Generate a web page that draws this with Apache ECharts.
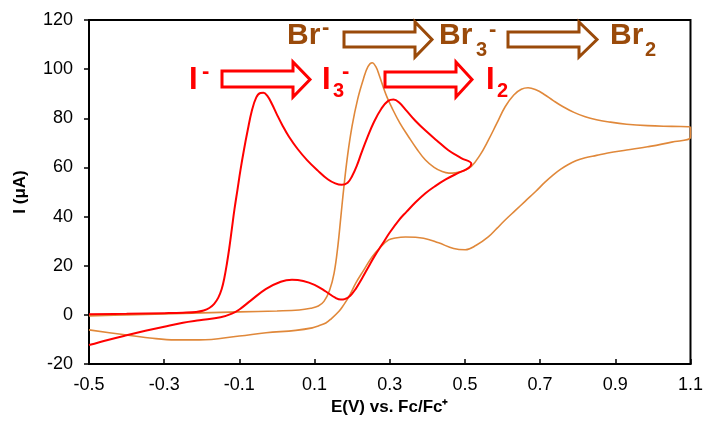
<!DOCTYPE html>
<html>
<head>
<meta charset="utf-8">
<script src="https://cdn.jsdelivr.net/npm/echarts@6/dist/echarts.min.js"></script>
<style>
html,body{margin:0;padding:0;background:#fff;}
#chart{width:706px;height:425px;}
</style>
</head>
<body>
<div id="chart"></div>
<script>
// Iodide CV (red): potential (V) and current (µA), in scan order
var redV = [-0.5,-0.4,-0.3,-0.25,-0.215,-0.195,-0.18,-0.167,-0.156,-0.147,-0.14,-0.133,-0.127,-0.12,-0.113,-0.105,-0.097,-0.088,-0.078,-0.067,-0.055,-0.044,-0.036,-0.026,-0.014,0.0,0.015,0.032,0.055,0.08,0.108,0.135,0.155,0.172,0.188,0.2,0.212,0.225,0.24,0.258,0.278,0.295,0.31,0.325,0.345,0.368,0.395,0.425,0.456,0.49,0.517,
  0.51,0.48,0.45,0.42,0.395,0.37,0.345,0.324,0.3,0.279,0.26,0.244,0.225,0.21,0.195,0.18,0.17,0.155,0.13,0.1,0.07,0.04,0.01,-0.03,-0.07,-0.1,-0.12,-0.15,-0.206,-0.25,-0.3,-0.35,-0.4,-0.45,-0.5];
var redI = [0.2,0.4,0.7,0.9,1.2,1.8,2.8,4.5,7,10.5,15,21,27,35,43,51,59,67,75,83,88.5,90.3,90.4,89.2,86,81.5,77,72.5,67.5,63,58.8,55.2,53.5,52.9,53.8,56.5,60.5,66,72,78.5,84,87,87.6,86.4,83,79,75,71,67,63.8,61.5,
  59.8,57.6,55.2,52.3,49.5,46,42,38.5,33.5,28.5,24,19.7,14.5,10.7,7.8,6.4,6.2,7,9.5,12.2,13.8,14.3,13.5,10.5,5.8,2.2,0.5,-1,-2.2,-3.2,-4.8,-6.5,-8.3,-10.2,-12.3];

// Bromide CV (orange): potential (V) and current (µA), in scan order
var orangeV = [-0.5,-0.4,-0.3,-0.2,-0.1,0,0.059,0.09,0.11,0.125,0.14,0.152,0.162,0.17,0.178,0.188,0.2,0.215,0.23,0.242,0.253,0.263,0.272,0.282,0.293,0.305,0.327,0.35,0.372,0.395,0.418,0.438,0.457,0.474,0.495,0.517,0.54,0.562,0.585,0.607,0.63,0.65,0.668,0.69,0.71,0.735,0.76,0.79,0.82,0.85,0.88,0.93,0.986,1.05,1.1,
  1.1,1.05,0.986,0.93,0.88,0.85,0.82,0.795,0.775,0.756,0.735,0.713,0.688,0.66,0.635,0.607,0.585,0.562,0.53,0.501,0.47,0.43,0.39,0.342,0.315,0.297,0.275,0.253,0.23,0.21,0.191,0.175,0.165,0.145,0.13,0.11,0.094,0.05,-0.029,-0.1,-0.206,-0.27,-0.338,-0.42,-0.5];
var orangeI = [-0.4,0,0.4,0.8,1.2,1.6,2,2.7,3.6,5.5,10,17,28,40,52,65,77,88,96,101,102.6,101,97.5,93,88.5,84.5,78,72.5,67.5,63,60,58.4,57.7,57.8,58.5,60.4,65,71,78,84.7,89.5,91.8,92.4,91.5,89.8,87.2,84.8,82.4,80.6,79.4,78.6,77.6,77,76.7,76.5,
  72.4,70.3,68.4,67.1,65.9,64.9,63.9,62.7,61.2,59.4,57,54,50.2,46.2,42.6,38.6,35.2,31.7,28.3,26.5,27,29.3,31.2,31.7,31.3,30.5,27.5,23.6,18,13,7.3,3.5,1.5,-1.5,-3.3,-4.5,-5.3,-6.3,-7.3,-8.6,-10.2,-10.2,-9.4,-7.8,-6.1];

// Tick labels
var xTicks = [-0.5,-0.3,-0.1,0.1,0.3,0.5,0.7,0.9,1.1];
var yTicks = [-20,0,20,40,60,80,100,120];

function pairs(xs, ys){ var out=[]; for(var i=0;i<xs.length;i++){ out.push([xs[i], ys[i]]); } return out; }

var FONT = "'Liberation Sans', Arial, sans-serif";
var RED = '#FF0000';
var BROWN = '#9A4A0A';
var ORANGE = '#E0883A';

function arrow(x0, x1, xh, by0, by1, hy0, hy1, color){
  var hm = (hy0 + hy1) / 2;
  return {
    type: 'polygon', z: 10,
    shape: { points: [[x0,by0],[xh,by0],[xh,hy0],[x1,hm],[xh,hy1],[xh,by1],[x0,by1]] },
    style: { fill: '#fff', stroke: color, lineWidth: 3, lineJoin: 'miter' }
  };
}
function txt(x, y, s, size, color){
  return { type: 'text', z: 11, x: x, y: y,
    style: { text: s, fill: color, font: 'bold ' + size + 'px ' + FONT, textVerticalAlign: 'middle', verticalAlign: 'middle', textAlign: 'left', align: 'left' } };
}

var chart = echarts.init(document.getElementById('chart'), null, {renderer: 'canvas'});
chart.setOption({
  animation: false,
  backgroundColor: '#fff',
  grid: { left: 89, right: 13, top: 20, bottom: 61, show: true, borderColor: '#000', borderWidth: 2, backgroundColor: 'transparent' },
  xAxis: {
    type: 'value', min: -0.5, max: 1.1,
    name: 'E(V) vs. Fc/Fc\u207A', nameLocation: 'middle', nameGap: 27,
    nameTextStyle: { fontFamily: FONT, fontWeight: 'bold', fontSize: 17, color: '#000' },
    axisLine: { onZero: false, lineStyle: { color: '#000', width: 2 } },
    axisTick: { show: true, inside: true, length: 5, lineStyle: { color: '#000', width: 1.5 }, customValues: xTicks },
    axisLabel: { fontFamily: FONT, fontSize: 18, color: '#000', margin: 12, customValues: xTicks,
      formatter: function(v){ return (Math.round(v*10)/10).toFixed(1); } },
    splitLine: { show: false }
  },
  yAxis: {
    type: 'value', min: -20, max: 120, interval: 20,
    name: 'I (\u03BCA)', nameLocation: 'middle', nameGap: 60, nameRotate: 90,
    nameTextStyle: { fontFamily: FONT, fontWeight: 'bold', fontSize: 17, color: '#000' },
    axisLine: { onZero: false, lineStyle: { color: '#000', width: 2 } },
    axisTick: { show: true, inside: false, length: 5, lineStyle: { color: '#000', width: 1.5 }, customValues: yTicks },
    axisLabel: { fontFamily: FONT, fontSize: 18, color: '#000', margin: 16, customValues: yTicks },
    splitLine: { show: false }
  },
  series: [
    { type: 'line', name: 'Br', data: pairs(orangeV, orangeI), smooth: 0.4, showSymbol: false, symbol: 'none',
      lineStyle: { color: ORANGE, width: 1.6 }, z: 2 },
    { type: 'line', name: 'I', data: pairs(redV, redI), smooth: 0.4, showSymbol: false, symbol: 'none',
      lineStyle: { color: RED, width: 2 }, z: 3 }
  ],
  graphic: [
    arrow(222, 310, 293, 71, 87, 62, 97, RED),
    arrow(385, 472, 456, 72, 87, 62, 97, RED),
    arrow(344, 432, 415, 32, 47, 22, 57, BROWN),
    arrow(508, 597, 579, 32, 47, 22, 57, BROWN),
    txt(189, 80, 'I', 31, RED),
    txt(202, 72, '-', 22, RED),
    txt(322, 80, 'I', 31, RED),
    txt(333, 91, '3', 20, RED),
    txt(342, 72, '-', 22, RED),
    txt(486, 80, 'I', 31, RED),
    txt(497, 91, '2', 20, RED),
    txt(287, 36, 'Br', 30, BROWN),
    txt(322, 28, '-', 22, BROWN),
    txt(439, 36, 'Br', 30, BROWN),
    txt(476, 50, '3', 20, BROWN),
    txt(489, 30, '-', 22, BROWN),
    txt(610, 36, 'Br', 30, BROWN),
    txt(645, 50, '2', 20, BROWN)
  ]
});
</script>
</body>
</html>
